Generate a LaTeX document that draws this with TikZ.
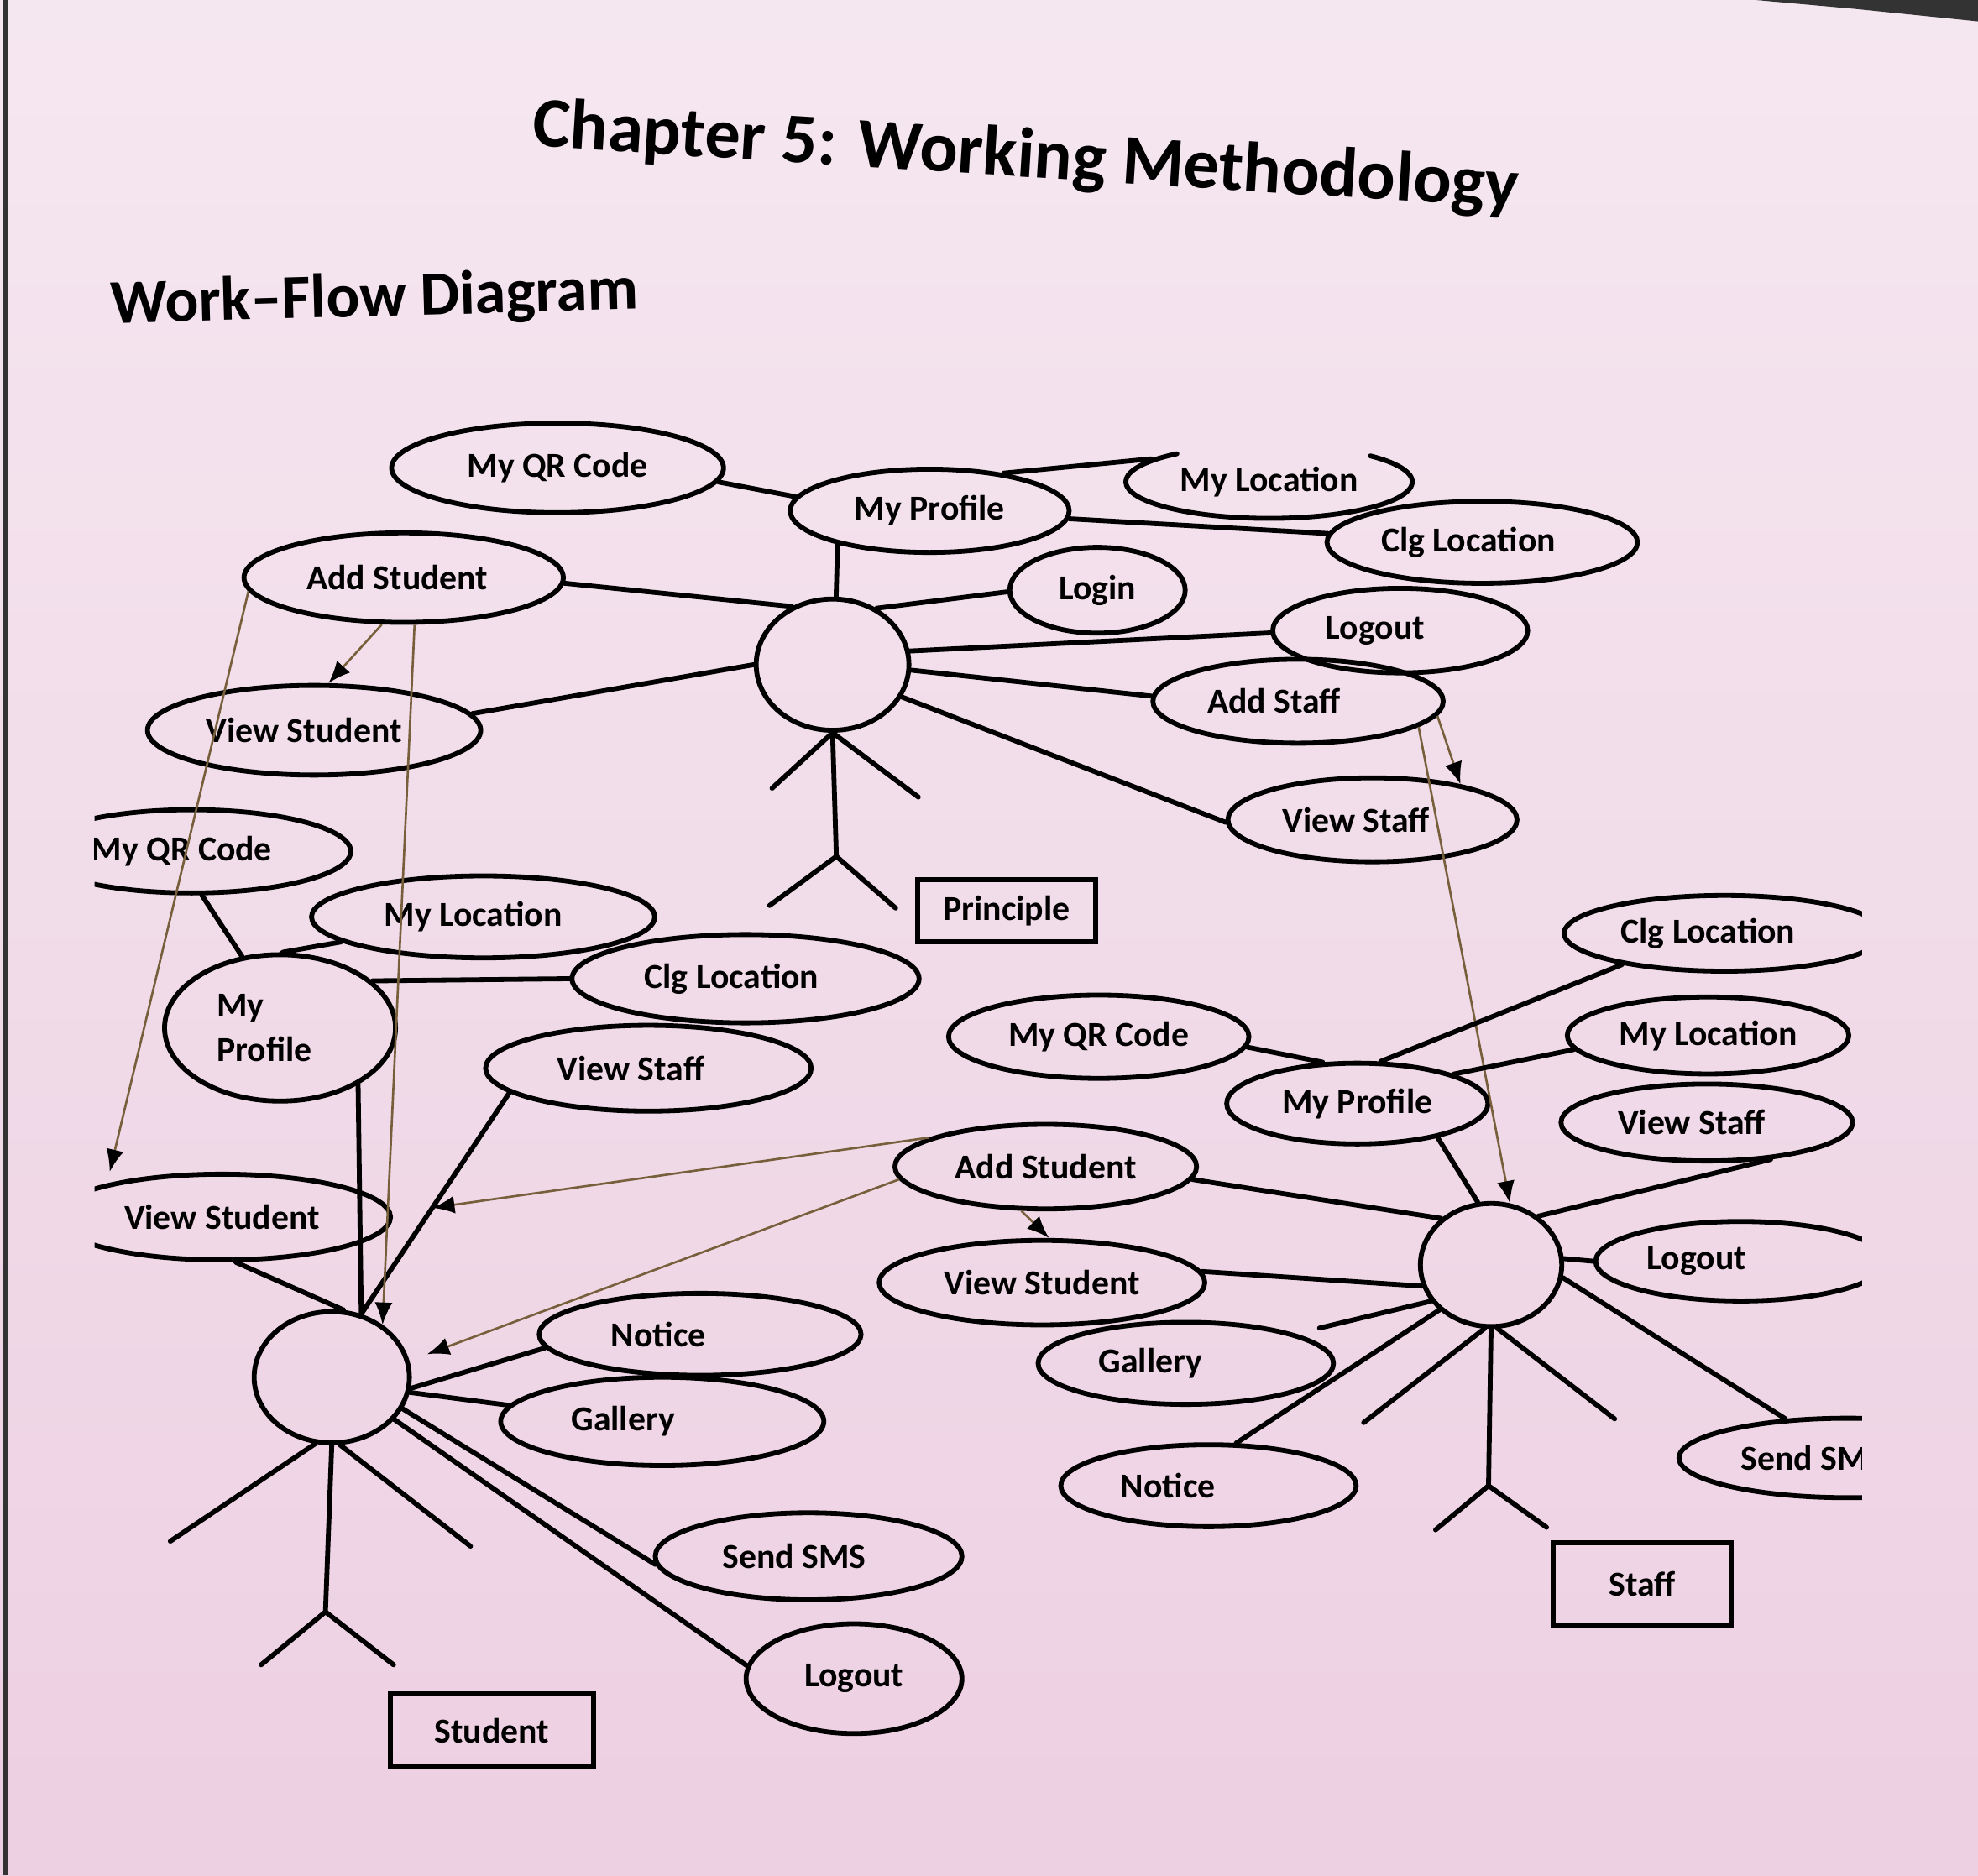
\documentclass[tikz,border=0pt]{standalone}
\usepackage{fontspec}
\setmainfont{Carlito}
\usetikzlibrary{shapes.geometric,arrows.meta,calc}
\definecolor{paperT}{RGB}{245,231,240}
\definecolor{paperB}{RGB}{237,208,226}
\definecolor{flowc}{RGB}{120,95,60}
\newcommand\lbl{\bfseries\fontsize{7.9}{9.4}\selectfont}
\begin{document}
\begin{tikzpicture}[x=0.01cm, y=-0.01cm,
  ln/.style={line width=1.1pt, line cap=round},
  uc/.style={ellipse, draw, line width=1.1pt, inner sep=0pt, font=\lbl},
  box/.style={rectangle, draw, line width=1.1pt, inner sep=0pt, font=\lbl},
  flow/.style={draw=flowc, line width=0.5pt, -{Latex[length=5pt,width=4pt,color=black]}}]
\useasboundingbox (0,0) rectangle (1568,1487);
\shade[top color=paperT, bottom color=paperB] (0,0) rectangle (1568,1487);
\draw[line width=1.3pt, black!80] (4,0) -- (4,1487);
\fill[black!80] (1392,0) -- (1568,0) -- (1568,17) -- (1470,7) -- cycle;

% titles
\node[anchor=base west, rotate=-3.6, font=\bfseries\fontsize{16}{19}\selectfont] (title) at (409,115) {Chapter 5: Working Methodology};
\node[anchor=base west, rotate=1.6, font=\bfseries\fontsize{14.1}{17}\selectfont] (subtitle) at (76,257) {Work–Flow Diagram};

\begin{scope}
\clip (75,0) rectangle (1476,1487);
% ---- Principle ----
\node[uc, minimum width=2.63cm, minimum height=0.71cm] (pQR) at (442,371) {My QR Code};
\node[uc, minimum width=2.21cm, minimum height=0.66cm] (pProf) at (737,405) {My Profile};
\node[uc, draw=none, minimum width=2.27cm, minimum height=0.58cm] (pLoc) at (1006,382) {My Location};
\node[uc, minimum width=2.46cm, minimum height=0.65cm] (pClg) at (1175,430) {Clg Location\hspace*{0.22cm}};
\node[uc, minimum width=1.39cm, minimum height=0.68cm] (pLogin) at (870,468) {Login};
\node[uc, minimum width=2.02cm, minimum height=0.67cm] (pLogout) at (1110,500) {Logout\hspace*{0.4cm}};
\node[uc, minimum width=2.30cm, minimum height=0.665cm] (pAddStaff) at (1029,556) {Add Staff\hspace*{0.38cm}};
\node[uc, minimum width=2.29cm, minimum height=0.665cm] (pViewStaff) at (1088,650) {View Staff\hspace*{0.26cm}};
\node[uc, minimum width=2.53cm, minimum height=0.71cm] (pAddStu) at (320,458) {Add Student\hspace*{0.1cm}};
\node[uc, minimum width=2.64cm, minimum height=0.71cm] (pViewStu) at (249,579) {View Student\hspace*{0.16cm}};
\node[uc, minimum width=1.21cm, minimum height=1.04cm] (pHead) at (660,527) {};
\node[box, minimum width=1.41cm, minimum height=0.49cm] (pBox) at (798,722) {Principle};

% ---- Student ----
\node[uc, minimum width=2.52cm, minimum height=0.66cm] (sQR) at (152,675) {My QR Code\hspace*{0.16cm}};
\node[uc, minimum width=2.72cm, minimum height=0.65cm] (sLoc) at (383,727) {My Location\hspace*{0.16cm}};
\node[uc, minimum width=1.83cm, minimum height=1.16cm, align=left, font=\bfseries\fontsize{7.9}{10.1}\selectfont] (sProf) at (222,815) {My\\Profile\hspace*{0.25cm}};
\node[uc, minimum width=2.75cm, minimum height=0.70cm] (sClg) at (591,776) {Clg Location\hspace*{0.22cm}};
\node[uc, minimum width=2.58cm, minimum height=0.68cm] (sViewStaff) at (514,847) {View Staff\hspace*{0.28cm}};
\node[uc, minimum width=2.67cm, minimum height=0.68cm] (sViewStu) at (176,965) {View Student};
\node[uc, minimum width=1.23cm, minimum height=1.04cm] (sHead) at (263,1092) {};
\node[uc, minimum width=2.55cm, minimum height=0.65cm] (sNotice) at (555,1058) {Notice\hspace*{0.66cm}};
\node[uc, minimum width=2.56cm, minimum height=0.70cm] (sGallery) at (525,1127) {Gallery\hspace*{0.62cm}};
\node[uc, minimum width=2.43cm, minimum height=0.69cm] (sSMS) at (641,1234) {Send SMS\hspace*{0.23cm}};
\node[uc, minimum width=1.71cm, minimum height=0.87cm] (sLogout) at (677,1331) {Logout};
\node[box, minimum width=1.61cm, minimum height=0.575cm] (sBox) at (390,1372) {Student};

% ---- Staff ----
\node[uc, minimum width=2.54cm, minimum height=0.60cm] (tClg) at (1367,740) {Clg Location\hspace*{0.26cm}};
\node[uc, minimum width=2.23cm, minimum height=0.61cm] (tLoc) at (1354,821) {My Location};
\node[uc, minimum width=2.31cm, minimum height=0.61cm] (tViewStaff) at (1353,890) {View Staff\hspace*{0.24cm}};
\node[uc, minimum width=2.30cm, minimum height=0.63cm] (tLogout) at (1380,1000) {Logout\hspace*{0.70cm}};
\node[uc, minimum width=2.68cm, minimum height=0.63cm] (tSMS) at (1465,1156) {Send SMS\hspace*{0.56cm}};
\node[uc, minimum width=2.38cm, minimum height=0.66cm] (tQR) at (871,822) {My QR Code};
\node[uc, minimum width=2.07cm, minimum height=0.64cm] (tProf) at (1076,875) {My Profile};
\node[uc, minimum width=2.39cm, minimum height=0.67cm] (tAddStu) at (829,925) {Add Student};
\node[uc, minimum width=2.58cm, minimum height=0.67cm] (tViewStu) at (826,1017) {View Student};
\node[uc, minimum width=2.34cm, minimum height=0.65cm] (tGallery) at (940,1081) {Gallery\hspace*{0.56cm}};
\node[uc, minimum width=2.34cm, minimum height=0.65cm] (tNotice) at (958,1178) {Notice\hspace*{0.64cm}};
\node[uc, minimum width=1.12cm, minimum height=0.975cm] (tHead) at (1182,1003) {};
\node[box, minimum width=1.41cm, minimum height=0.65cm] (tBox) at (1302,1256) {Staff};

% ---- Principle connectors ----
\draw[ln] ([shift={(130:1.135cm and 0.29cm)}]pLoc.center) arc[start angle=130, end angle=405, x radius=1.135cm, y radius=0.29cm];
\draw[ln] (pQR.-5) -- (pProf.174);
\draw[ln] (pProf.200) -- (pHead.87);
\draw[ln] (pProf.27) -- (pLoc.169);
\draw[ln] (pProf) -- (pClg);
\draw[ln] (pHead.52) -- (pLogin.181);
\draw[ln] (pHead.10) -- (pLogout.181);
\draw[ln] (pHead.-4) -- (pAddStaff.178);
\draw[ln] (pHead.-25) -- (pViewStaff.181);
\draw[ln] (pAddStu.-2) -- (pHead.125);
\draw[ln] (pViewStu.6) -- (pHead.180);
\draw[flow] (pAddStu.245) -- (pViewStu.73);
\draw[flow] (pAddStaff.-6) -- (pViewStaff.22);
\draw[flow] (pAddStaff.-12) -- (tHead.73);
\coordinate (pHip) at (663,679);
\coordinate (pLHand) at (612,625);
\coordinate (pRHand) at (728,632);
\coordinate (pLFoot) at (610,718);
\coordinate (pRFoot) at (710,720);
\draw[ln] (pHead.south) -- (pHip);
\draw[ln] (pLHand) -- (pHead.south) -- (pRHand);
\draw[ln] (pLFoot) -- (pHip) -- (pRFoot);

% ---- Student connectors ----
\draw[ln] (sQR.-77) -- (sProf.118);
\draw[ln] (sProf.88) -- (sLoc.190);
\draw[ln] (sProf.27) -- (sClg.180);
\draw[ln] (sProf.-36) -- (sHead.65);
\draw[ln] (sViewStaff.190) -- (sHead.65);
\draw[ln] (sViewStu.-73) -- (sHead.80);
\draw[ln] (sHead.-8) -- (sNotice.185);
\draw[ln] (sHead.-11) -- (sGallery.174);
\draw[ln] (sHead.-24) -- (sSMS.183);
\draw[ln] (sHead.-34) -- (sLogout.173);
\coordinate (sVSin) at (87,929);
\draw[flow] (pAddStu.185) -- (sVSin);
\draw[flow] (pAddStu.-77) -- (sHead.46);
\coordinate (vsm) at ($(sViewStaff.190)!0.52!(sHead.65)$);
\draw[flow] (tAddStu.166) -- (vsm);
\draw[flow, shorten >=0.15cm] (tAddStu.185) -- (sHead.12);
\coordinate (sHip) at (258,1278);
\coordinate (sLHand) at (135,1222);
\coordinate (sRHand) at (373,1226);
\coordinate (sLFoot) at (207,1320);
\coordinate (sRFoot) at (312,1320);
\draw[ln] (sHead.south) -- (sHip);
\draw[ln] (sHead.-104) -- (sLHand);
\draw[ln] (sHead.-83) -- (sRHand);
\draw[ln] (sLFoot) -- (sHip) -- (sRFoot);

% ---- Staff connectors ----
\draw[ln] (tQR.-4) -- (tProf.130);
\draw[ln] (tProf.61) -- (tClg.197);
\draw[ln] (tProf.17) -- (tLoc.186);
\draw[ln] (tProf.-23) -- (tHead.102);
\draw[ln] (tHead.46) -- (tViewStaff.-30);
\draw[ln] (tAddStu.-5) -- (tHead.137);
\draw[ln] (tViewStu.4) -- (tHead.197);
\draw[flow] (tAddStu.241) -- (tViewStu.81);
\coordinate (tDang) at (1046,1053);
\draw[ln] (tHead.211) -- (tDang);
\draw[ln] (tHead.221) -- (tNotice.57);
\draw[ln] (tHead.-10) -- (tSMS.148);
\draw[ln] (tHead.5) -- (tLogout.180);
\coordinate (tHip) at (1180,1178);
\coordinate (tLHand) at (1081,1128);
\coordinate (tRHand) at (1280,1125);
\coordinate (tLFoot) at (1138,1213);
\coordinate (tRFoot) at (1226,1211);
\draw[ln] (tHead.south) -- (tHip);
\draw[ln] (tHead.-96) -- (tLHand);
\draw[ln] (tHead.-84) -- (tRHand);
\draw[ln] (tLFoot) -- (tHip) -- (tRFoot);
\end{scope}
\end{tikzpicture}
\end{document}
